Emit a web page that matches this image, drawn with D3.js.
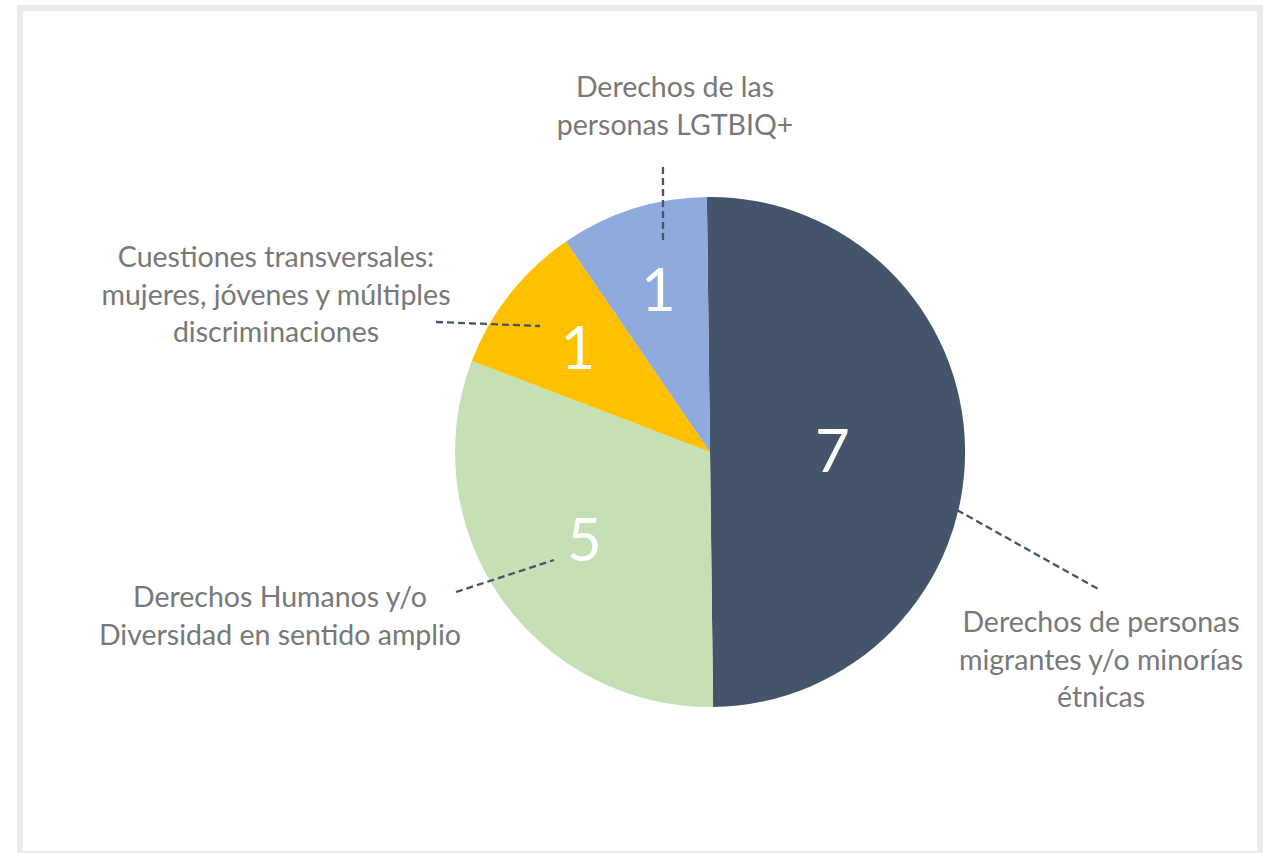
<!DOCTYPE html>
<html>
<head>
<meta charset="utf-8">
<script src="https://cdn.jsdelivr.net/npm/d3@7"></script>
<style>
  html, body { margin: 0; padding: 0; background: #fff; }
  #chart { width: 1269px; height: 853px; }
</style>
</head>
<body>
<div id="chart"></div>
<script>
//Datos del gráfico (orden de las porciones en sentido horario desde arriba)
const categorias = [
    'Derechos de personas migrantes y/o minorías étnicas',
    'Derechos Humanos y/o Diversidad en sentido amplio',
    'Cuestiones transversales: mujeres, jóvenes y múltiples discriminaciones',
    'Derechos de las personas LGTBIQ+'
];
const valores = [7, 4.34, 1.35, 1.31];
//Etiquetas numéricas que se muestran
const etiquetasValor = ['7', '5', '1', '1'];
//Texto de las etiquetas de categoría, por líneas
const lineasCategoria = [
    ['Derechos de personas', 'migrantes y/o minorías', 'étnicas'],
    ['Derechos Humanos y/o', 'Diversidad en sentido amplio'],
    ['Cuestiones transversales:', 'mujeres, jóvenes y múltiples', 'discriminaciones'],
    ['Derechos de las', 'personas LGTBIQ+']
];

//Colores fijos
const COLORES = ['#44546A', '#C5E0B4', '#FFC000', '#8FAADC'];
const COLOR_TEXTO = '#787878', COLOR_GUIA = '#44546A', COLOR_MARCO = '#EBEBEB';

//Dimensiones
const width = 1269, height = 853;
const cx = 710, cy = 452, radius = 255;
const rotacion = -0.0122; //la tarta está girada ligeramente

//Posición de las etiquetas (centro de la primera línea base) y de las guías
const posEtiqueta = [[1101, 632], [280, 607], [276, 267], [675, 97]];
const guias = [
    [[957, 510], [1100, 590]],
    [[456, 592], [554, 560]],
    [[436, 322], [540, 326]],
    [[663, 167], [663, 240]]
];
const radioValor = [0.48, 0.6, 0.66, 0.67];
const altoLinea = 37.5;

let svg = d3.select('#chart')
    .append('svg')
        .attr('width', width)
        .attr('height', height);

//Marco
svg.append('rect')
    .attr('x', 20).attr('y', 8)
    .attr('width', 1240).attr('height', 846)
    .attr('fill', '#fff')
    .attr('stroke', COLOR_MARCO)
    .attr('stroke-width', 6);

let pie = d3.pie()
    .sort(null)
    .value(function(d) { return d; })
    .startAngle(rotacion)
    .endAngle(2 * Math.PI + rotacion);

let arcs = pie(valores);

let arc = d3.arc().innerRadius(0).outerRadius(radius);

let g = svg.append('g')
    .attr('transform', 'translate(' + cx + ',' + cy + ')');

g.selectAll('path')
    .data(arcs)
    .enter()
    .append('path')
    .attr('d', arc)
    .attr('fill', function(d, i) { return COLORES[i]; });

//Números dentro de las porciones
g.selectAll('text.valor')
    .data(arcs)
    .enter()
    .append('text')
    .attr('class', 'valor')
    .attr('x', function(d, i) { let a = (d.startAngle + d.endAngle) / 2; return Math.sin(a) * radius * radioValor[i]; })
    .attr('y', function(d, i) { let a = (d.startAngle + d.endAngle) / 2; return -Math.cos(a) * radius * radioValor[i]; })
    .attr('dy', '0.36em')
    .attr('text-anchor', 'middle')
    .style('font-family', 'Lato, "Open Sans", sans-serif')
    .style('font-size', '60px')
    .attr('fill', '#fff')
    .text(function(d, i) { return etiquetasValor[i]; });

//Líneas guía discontinuas
svg.append('g')
    .selectAll('line')
    .data(guias)
    .enter()
    .append('line')
    .attr('x1', function(d) { return d[0][0]; })
    .attr('y1', function(d) { return d[0][1]; })
    .attr('x2', function(d) { return d[1][0]; })
    .attr('y2', function(d) { return d[1][1]; })
    .attr('stroke', COLOR_GUIA)
    .attr('stroke-width', 2.3)
    .attr('stroke-dasharray', '7,4');

//Etiquetas de categoría
let etiquetas = svg.append('g')
    .selectAll('text')
    .data(lineasCategoria)
    .enter()
    .append('text')
    .attr('text-anchor', 'middle')
    .style('font-family', 'Lato, "Open Sans", sans-serif')
    .style('font-size', '28.5px')
    .attr('fill', COLOR_TEXTO);

etiquetas.each(function(lineas, i) {
    let t = d3.select(this);
    lineas.forEach(function(l, j) {
        t.append('tspan')
            .attr('x', posEtiqueta[i][0])
            .attr('y', posEtiqueta[i][1] + j * altoLinea)
            .text(l);
    });
});
</script>
</body>
</html>
